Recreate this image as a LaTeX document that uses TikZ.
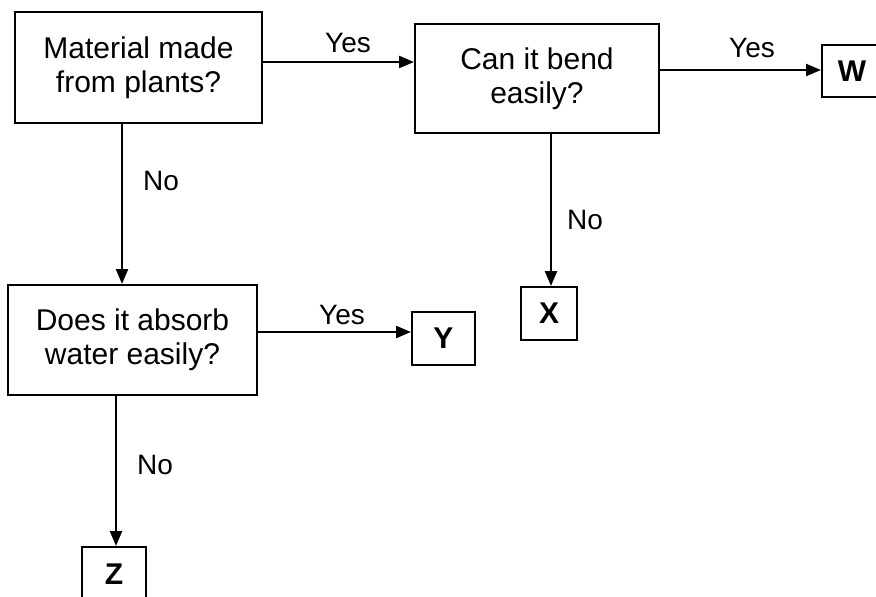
\documentclass[tikz,border=0pt]{standalone}
\usepackage{fontspec}
\setmainfont{Liberation Sans}
\usetikzlibrary{arrows.meta}
\begin{document}
\begin{tikzpicture}[x=1pt,y=-1pt,
  qbox/.style={draw, line width=2pt, align=center, inner sep=0pt,
    font=\fontsize{30}{34}\selectfont},
  lbox/.style={draw, line width=2pt, inner sep=0pt,
    font=\fontsize{30}{32}\selectfont\bfseries},
  arr/.style={line width=2.4pt, -{Triangle[length=15pt,width=12pt]}},
  lab/.style={font=\fontsize{28}{30}\selectfont, inner sep=0pt}]
\useasboundingbox (0,0) rectangle (876,597);
% question boxes
\node[qbox, minimum width=247pt, minimum height=111pt] (A) at (138.5,67.5) {Material made\\from plants?};
\node[qbox, minimum width=244pt, minimum height=109pt] (B) at (537,78.5) {Can it bend\\easily?};
\node[qbox, minimum width=249pt, minimum height=110pt] (C) at (132.5,340) {Does it absorb\\water easily?};
% answer boxes
\node[lbox, minimum width=60pt, minimum height=52pt] (W) at (852,71) {W};
\node[lbox, minimum width=56pt, minimum height=53pt] (X) at (549,313.5) {X};
\node[lbox, minimum width=63pt, minimum height=53pt] (Y) at (443.5,338.5) {Y};
\node[lbox, minimum width=64pt, minimum height=54pt] (Z) at (114,574) {Z};
% connectors
\draw[arr] ([yshift=5.5pt]A.east) coordinate (a1) -- (a1 -| B.west);
\draw[arr] ([yshift=8.5pt]B.east) coordinate (b1) -- (b1 -| W.west);
\draw[arr] ([yshift=8pt]C.east) coordinate (c1) -- (c1 -| Y.west);
\draw[arr] ([xshift=-16.5pt]A.south) coordinate (a2) -- (a2 |- C.north);
\draw[arr] ([xshift=14pt]B.south) coordinate (b2) -- (b2 |- X.north);
\draw[arr] ([xshift=-16.5pt]C.south) coordinate (c2) -- (c2 |- Z.north);
% labels
\node[lab] (l1) at (348,43) {Yes};
\node[lab] (l2) at (752,48) {Yes};
\node[lab] (l3) at (342,315) {Yes};
\node[lab] (l4) at (161,181) {No};
\node[lab] (l5) at (585,220) {No};
\node[lab] (l6) at (155,465) {No};
\end{tikzpicture}
\end{document}
